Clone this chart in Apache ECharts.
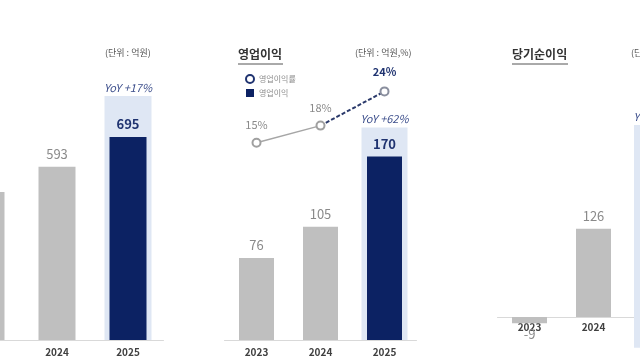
<!DOCTYPE html>
<html><head><meta charset="utf-8">
<script src="https://cdn.jsdelivr.net/npm/echarts@6/dist/echarts.min.js"></script>
<style>html,body{margin:0;padding:0;background:#fff}#c{width:640px;height:360px}</style>
</head><body><div id="c"></div>
<script>
// ---- data ----
const years = ['2023', '2024', '2025'];
const revenue = [507, 593, 695];
const opProfit = [76, 105, 170];
const opMargin = [15, 18, 24];
const netIncome = [-9, 126, 203];
const yoyText = ['YoY +17%', 'YoY +62%', 'YoY +61%'];
const highlightTop = [835, 197, 274];
const highlightBottom = [0, 0, -44];
const titles = ['영업이익', '당기순이익'];
const units = ['(단위 : 억원)', '(단위 : 억원,%)', '(단위 : 억원)'];
const legendNames = ['영업이익률', '영업이익'];

const FONT = '"Noto Sans CJK KR", "Noto Sans", sans-serif';
const NAVY = '#0c2263';
const GRAY = '#bfbfbf';
const HL = '#dfe7f4';
const LBL = '#8a8a8a';

function barData(vals) {
  return vals.map((v, i) => {
    const last = i === vals.length - 1;
    return {
      value: v,
      itemStyle: { color: last ? NAVY : GRAY },
      label: {
        position: v < 0 ? 'bottom' : 'top',
        distance: v < 0 ? 4 : 6,
        color: last ? '#1f3370' : LBL,
        fontWeight: last ? 'bold' : 'normal'
      }
    };
  });
}
function hlData(v) { return years.map((y, i) => i === years.length - 1 ? v : null); }

function barSeries(name, vals, xi, yi, bw) {
  return {
    type: 'bar', name: name, xAxisIndex: xi, yAxisIndex: yi, barWidth: bw, z: 3, clip: false,
    data: barData(vals),
    label: { show: true, fontFamily: FONT, fontSize: 13, formatter: p => String(p.value) }
  };
}
function hlSeries(idx, xi, yi, bw) {
  const s = [{
    type: 'bar', name: 'hl' + idx, xAxisIndex: xi, yAxisIndex: yi, barWidth: bw, barGap: '-100%', z: 1,
    silent: true, clip: false, itemStyle: { color: HL },
    data: hlData(highlightTop[idx]),
    label: { show: true, position: 'top', distance: 3, formatter: () => yoyText[idx],
      fontFamily: FONT, fontSize: 11, fontStyle: 'italic', color: '#3d4f8c' }
  }];
  if (highlightBottom[idx] < 0) {
    s.push({ type: 'bar', name: 'hlb' + idx, xAxisIndex: xi, yAxisIndex: yi, barWidth: bw, barGap: '-100%', z: 1,
      silent: true, clip: false, itemStyle: { color: HL }, data: hlData(highlightBottom[idx]) });
  }
  return s;
}

const xDataAxis = (gi, margin) => ({
  type: 'category', gridIndex: gi, data: years,
  axisLine: { lineStyle: { color: '#d9d9d9', width: 1 } },
  axisTick: { show: false },
  axisLabel: { margin: margin, fontFamily: FONT, fontSize: 10, fontWeight: 'bold', color: '#404040' }
});
const xHlAxis = (gi) => ({ type: 'category', gridIndex: gi, data: years, show: false });
const yAx = (gi, min, max) => ({ type: 'value', gridIndex: gi, min: min, max: max, show: false, splitLine: { show: false } });

const option = {
  animation: false,
  backgroundColor: '#fff',
  grid: [
    { left: -49.5, width: 213, top: 80, height: 260, outerBoundsMode: 'none', containLabel: false },
    { left: 224.5, width: 192, top: 80, height: 260, outerBoundsMode: 'none', containLabel: false },
    { left: 497.5, width: 192, top: 80, height: 237, outerBoundsMode: 'none', containLabel: false }
  ],
  xAxis: [xDataAxis(0, 7), xHlAxis(0), xDataAxis(1, 7), xHlAxis(1), xDataAxis(2, 5), xHlAxis(2)],
  yAxis: [yAx(0, 0, 890), yAx(1, 0, 241), yAx(1, -19.6, 26), yAx(2, 0, 338)],
  legend: {
    left: 240, top: 69, orient: 'vertical', itemGap: 5, itemWidth: 8, itemHeight: 8,
    textStyle: { fontFamily: FONT, fontSize: 8, color: '#8a8a8a' },
    data: [
      { name: legendNames[0], icon: 'emptyCircle', itemStyle: { color: '#1f3370', borderColor: '#1f3370', borderWidth: 1.5 } },
      { name: legendNames[1], icon: 'rect', itemStyle: { color: NAVY } }
    ]
  },
  series: [
    ...hlSeries(0, 1, 0, 47),
    barSeries('rev', revenue, 0, 0, 37),
    ...hlSeries(1, 3, 1, 46),
    barSeries(legendNames[1], opProfit, 2, 1, 35),
    {
      type: 'line', name: legendNames[0], xAxisIndex: 2, yAxisIndex: 2, z: 5,
      data: [opMargin[0], opMargin[1], null],
      symbol: 'emptyCircle', symbolSize: 8,
      itemStyle: { color: '#a0a0a0', borderWidth: 1.5 },
      lineStyle: { color: '#a6a6a6', width: 1.5 },
      label: { show: true, position: 'top', distance: 7, formatter: p => p.value + '%',
        fontFamily: FONT, fontSize: 11, color: LBL }
    },
    {
      type: 'line', name: legendNames[0] + ' ', xAxisIndex: 2, yAxisIndex: 2, z: 4,
      data: [null, { value: opMargin[1], symbol: 'none', label: { show: false } }, opMargin[2]],
      symbol: 'emptyCircle', symbolSize: 8,
      itemStyle: { color: '#8a8f9e', borderWidth: 1.5 },
      lineStyle: { color: '#2b3a6b', width: 2, type: [4, 2] },
      label: { show: true, position: 'top', distance: 9, formatter: p => p.value + '%',
        fontFamily: FONT, fontSize: 11, fontWeight: 'bold', color: '#1f3370' }
    },
    ...hlSeries(2, 5, 3, 47),
    barSeries('net', netIncome, 4, 3, 35)
  ],
  graphic: [
    { type: 'text', left: 105, top: 48, style: { text: units[0], font: '9px ' + FONT, fill: '#555' } },
    { type: 'text', left: 238, top: 48, style: { text: titles[0], font: 'bold 12px ' + FONT, fill: '#333' } },
    { type: 'line', shape: { x1: 238, y1: 64, x2: 283, y2: 64 }, style: { stroke: '#555', lineWidth: 1 } },
    { type: 'text', left: 355, top: 48, style: { text: units[1], font: '9px ' + FONT, fill: '#555' } },
    { type: 'text', left: 512, top: 48, style: { text: titles[1], font: 'bold 12px ' + FONT, fill: '#333' } },
    { type: 'line', shape: { x1: 512, y1: 64, x2: 568, y2: 64 }, style: { stroke: '#555', lineWidth: 1 } },
    { type: 'text', left: 631, top: 48, style: { text: units[2], font: '9px ' + FONT, fill: '#555' } }
  ]
};
const chart = echarts.init(document.getElementById('c'), null, { renderer: 'canvas' });
chart.setOption(option);
</script></body></html>
